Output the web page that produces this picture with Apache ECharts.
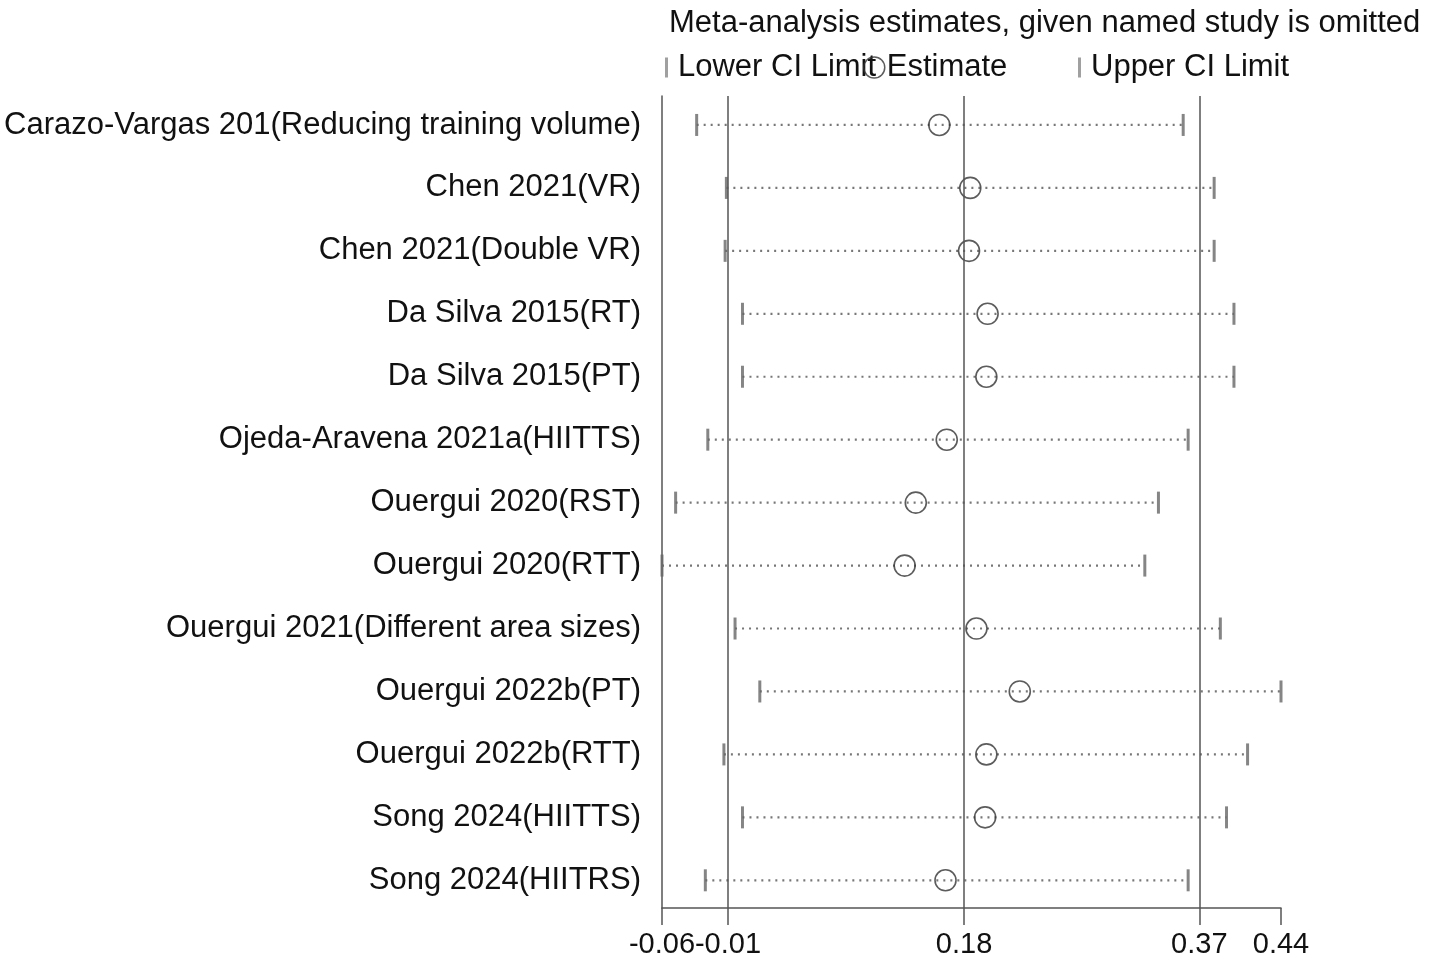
<!DOCTYPE html>
<html>
<head>
<meta charset="utf-8">
<script src="https://cdn.jsdelivr.net/npm/echarts@6/dist/echarts.min.js"></script>
<style>
html,body{margin:0;padding:0;background:#fff;}
#chart{width:1429px;height:964px;}
</style>
</head>
<body>
<div id="chart"></div>
<script>
const studies = [
  'Carazo-Vargas 201(Reducing training volume)',
  'Chen 2021(VR)',
  'Chen 2021(Double VR)',
  'Da Silva 2015(RT)',
  'Da Silva 2015(PT)',
  'Ojeda-Aravena 2021a(HIITTS)',
  'Ouergui 2020(RST)',
  'Ouergui 2020(RTT)',
  'Ouergui 2021(Different area sizes)',
  'Ouergui 2022b(PT)',
  'Ouergui 2022b(RTT)',
  'Song 2024(HIITTS)',
  'Song 2024(HIITRS)'
];
const lowerCI  = [-0.032, -0.008, -0.009, 0.005, 0.005, -0.023, -0.049, -0.060, -0.001, 0.019, -0.010, 0.005, -0.025];
const estimate = [0.164, 0.189, 0.188, 0.203, 0.202, 0.170, 0.145, 0.136, 0.194, 0.229, 0.202, 0.201, 0.169];
const upperCI  = [0.361, 0.386, 0.386, 0.402, 0.402, 0.365, 0.341, 0.330, 0.391, 0.440, 0.413, 0.396, 0.365];
const pooled = [-0.0067, 0.184, 0.374];
const tickValues = [-0.06, -0.0067, 0.184, 0.374, 0.44];
const tickLabels = ['-0.06', '-0.01', '0.18', '0.37', '0.44'];
const titleText = 'Meta-analysis estimates, given named study is omitted';

const FONT = "'Liberation Sans', Arial, Helvetica, sans-serif";
const GRAY = '#555';
const TEXT = '#111';
const rowIdx = studies.map((s, i) => i);

const chart = echarts.init(document.getElementById('chart'), null, {renderer: 'canvas'});
const option = {
  animation: false,
  backgroundColor: '#fff',
  textStyle: {fontFamily: FONT},
  title: {
    text: titleText,
    left: 664, top: 3,
    textStyle: {fontFamily: FONT, fontSize: 31, fontWeight: 'normal', color: TEXT}
  },
  legend: [
    {data: [{name: 'Lower CI Limit', icon: 'rect', itemStyle: {color: '#888'}}], left: 660, top: 47,
     itemWidth: 3, itemHeight: 20, textStyle: {fontFamily: FONT, fontSize: 31, color: TEXT, padding: [0,0,0,5]}, selectedMode: false},
    {data: [{name: 'Estimate', icon: 'circle', itemStyle: {color: 'rgba(0,0,0,0)', borderColor: '#333', borderWidth: 1.5}}], left: 858, top: 47,
     itemWidth: 21, itemHeight: 21, textStyle: {fontFamily: FONT, fontSize: 31, color: TEXT, padding: [0,0,0,-3]}, selectedMode: false},
    {data: [{name: 'Upper CI Limit', icon: 'rect', itemStyle: {color: '#888'}}], left: 1073, top: 47,
     itemWidth: 3, itemHeight: 20, textStyle: {fontFamily: FONT, fontSize: 31, color: TEXT, padding: [0,0,0,5]}, selectedMode: false}
  ],
  grid: {left: 662, right: 148, top: 96, bottom: 56, containLabel: false},
  xAxis: {
    type: 'value', min: -0.06, max: 0.44,
    axisLine: {show: true, onZero: false, lineStyle: {color: GRAY, width: 1.5}},
    axisTick: {show: true, customValues: tickValues, length: 17, lineStyle: {color: GRAY, width: 1.5}},
    axisLabel: {show: true, customValues: tickValues, margin: 22, fontFamily: FONT, fontSize: 29, color: TEXT,
      formatter: v => { const k = tickValues.findIndex(t => Math.abs(t - v) < 1e-9); return k >= 0 ? tickLabels[k] : ''; }},
    splitLine: {show: false}
  },
  yAxis: {
    type: 'value', inverse: true, min: -0.46, max: 12.44,
    axisLine: {show: true, onZero: false, lineStyle: {color: GRAY, width: 1.5}},
    axisTick: {show: false},
    axisLabel: {show: true, customValues: rowIdx, margin: 21, fontFamily: FONT, fontSize: 31, color: TEXT,
      formatter: v => studies[Math.round(v)] || ''},
    splitLine: {show: false}
  },
  series: [
    {
      name: 'CI',
      type: 'custom',
      data: studies.map((s, i) => [lowerCI[i], upperCI[i], i]),
      encode: {x: [0, 1], y: 2},
      renderItem: (params, api) => {
        const p1 = api.coord([api.value(0), api.value(2)]);
        const p2 = api.coord([api.value(1), api.value(2)]);
        return {type: 'line', shape: {x1: p1[0], y1: p1[1], x2: p2[0], y2: p2[1]},
          style: {stroke: '#777', lineWidth: 2.2, lineDash: [2, 5]}};
      },
      markLine: {
        silent: true, symbol: 'none', precision: 6, label: {show: false},
        lineStyle: {type: 'solid', color: GRAY, width: 1.5},
        data: pooled.map(v => ({xAxis: v}))
      },
      z: 2
    },
    {
      name: 'Lower CI Limit', type: 'scatter', symbol: 'rect', symbolSize: [3, 22],
      itemStyle: {color: '#666'},
      data: lowerCI.map((v, i) => [v, i]), z: 3
    },
    {
      name: 'Upper CI Limit', type: 'scatter', symbol: 'rect', symbolSize: [3, 22],
      itemStyle: {color: '#666'},
      data: upperCI.map((v, i) => [v, i]), z: 3
    },
    {
      name: 'Estimate', type: 'scatter', symbol: 'circle', symbolSize: 21,
      itemStyle: {color: 'rgba(0,0,0,0)', borderColor: '#333', borderWidth: 1.6},
      data: estimate.map((v, i) => [v, i]), z: 4
    }
  ]
};
chart.setOption(option);
</script>
</body>
</html>
